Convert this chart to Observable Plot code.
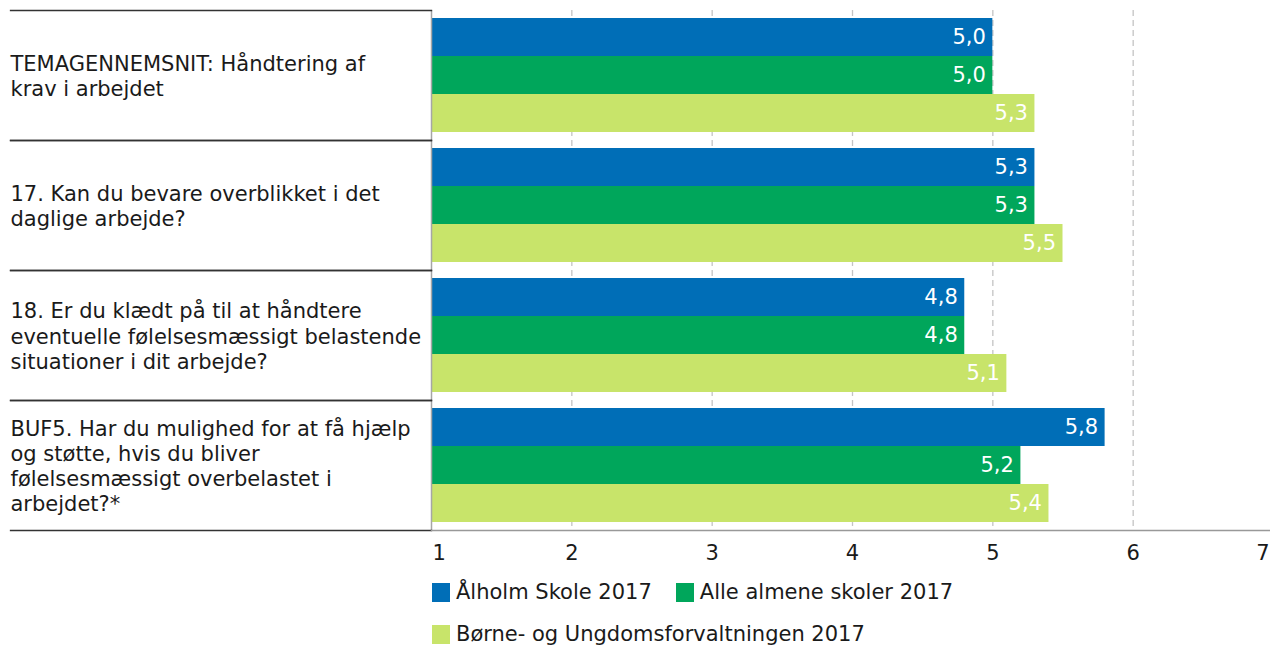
<!DOCTYPE html>
<html><head><meta charset="utf-8">
<script src="https://cdn.jsdelivr.net/npm/d3@7"></script>
<script src="https://cdn.jsdelivr.net/npm/@observablehq/plot@0.6"></script>
<style>
html,body{margin:0;padding:0;background:#fff;overflow:hidden;}
body{font-family:"DejaVu Sans",Verdana,sans-serif;color:#1a1a1a;}
#legend{margin-left:432px;width:838px;display:flex;flex-wrap:wrap;column-gap:24px;row-gap:16px;margin-top:4px;font-size:21px;line-height:26px;}
#legend .item{display:flex;align-items:center;white-space:nowrap;}
#legend .sw{display:inline-block;width:18px;height:19px;margin-right:6px;}
</style></head><body>
<div id="chart"></div>
<div id="legend"></div>
<script>
const categories = [
  "TEMAGENNEMSNIT: Håndtering af\nkrav i arbejdet",
  "17. Kan du bevare overblikket i det\ndaglige arbejde?",
  "18. Er du klædt på til at håndtere\neventuelle følelsesmæssigt belastende\nsituationer i dit arbejde?",
  "BUF5. Har du mulighed for at få hjælp\nog støtte, hvis du bliver\nfølelsesmæssigt overbelastet i\narbejdet?*"
];
const series = ["Ålholm Skole 2017", "Alle almene skoler 2017", "Børne- og Ungdomsforvaltningen 2017"];
const colors = ["#006EB7", "#00A65B", "#C8E46A"];
const alholmValues = [5.0, 5.3, 4.8, 5.8];
const alleSkolerValues = [5.0, 5.3, 4.8, 5.2];
const bufValues = [5.3, 5.5, 5.1, 5.4];
const xTicks = [1, 2, 3, 4, 5, 6, 7];

const seriesValues = [alholmValues, alleSkolerValues, bufValues];
const data = categories.flatMap((c, i) => series.map((s, j) => ({category: c, series: s, value: seriesValues[j][i]})));
const fmt = v => d3.format(".1f")(v).replace(".", ",");
const tickFmt = d => String(d);

const W = 1270, H = 575, ML = 431, MT = 10, MB = 45, MR = -3, labelX = 10;
const font = "DejaVu Sans, Verdana, sans-serif";

const chart = Plot.plot({
  width: W, height: H,
  marginLeft: ML, marginRight: MR, marginTop: MT, marginBottom: MB,
  style: {fontFamily: font, fontSize: "21px", color: "#1a1a1a", background: "white", overflow: "visible"},
  x: {domain: [xTicks[0], xTicks[xTicks.length - 1]], label: null},
  y: {domain: series, axis: null, paddingInner: 0, paddingOuter: 0.21},
  fy: {domain: categories, padding: 0, axis: null, label: null},
  color: {domain: series, range: colors},
  marks: [
    Plot.ruleX(xTicks.slice(1), {stroke: "#c4c4c4", strokeWidth: 1.3, strokeDasharray: "6,4"}),
    Plot.barX(data, {fy: "category", y: "series", x1: xTicks[0], x2: "value", fill: "series"}),
    Plot.text(data, {fy: "category", y: "series", x: "value", text: d => fmt(d.value), textAnchor: "end", dx: -7, fill: "white", fontSize: 21}),
    Plot.ruleX([xTicks[0]], {stroke: "#a6a6a6", strokeWidth: 1.5}),
    Plot.frame({anchor: "top", stroke: "#333", strokeWidth: 1.3, insetLeft: -(ML - labelX), insetRight: W - MR - ML}),
    Plot.frame({anchor: "bottom", stroke: "#333", strokeWidth: 1.3, insetLeft: -(ML - labelX), insetRight: W - MR - ML}),
    Plot.frame({anchor: "bottom", stroke: "#999", strokeWidth: 1.5, facet: "super"}),
    Plot.axisFy({anchor: "left", tickSize: 0, tickPadding: 0, textAnchor: "start", dx: -(ML - labelX), lineHeight: 1.2, fontSize: 21, fill: "#1a1a1a", label: null}),
    Plot.axisX([xTicks[0]], {tickSize: 0, tickPadding: 15, textAnchor: "start", dx: 1, fontSize: 21, fill: "#1a1a1a", label: null, tickFormat: tickFmt}),
    Plot.axisX(xTicks.slice(1, -1), {tickSize: 0, tickPadding: 15, fontSize: 21, fill: "#1a1a1a", label: null, tickFormat: tickFmt}),
    Plot.axisX([xTicks[xTicks.length - 1]], {tickSize: 0, tickPadding: 15, textAnchor: "end", dx: -4, fontSize: 21, fill: "#1a1a1a", label: null, tickFormat: tickFmt})
  ]
});
document.getElementById("chart").appendChild(chart);

const legend = document.getElementById("legend");
series.forEach((s, i) => {
  const item = document.createElement("div");
  item.className = "item";
  const sw = document.createElement("span");
  sw.className = "sw";
  sw.style.background = colors[i];
  item.appendChild(sw);
  item.appendChild(document.createTextNode(s));
  legend.appendChild(item);
});
</script>
</body></html>
